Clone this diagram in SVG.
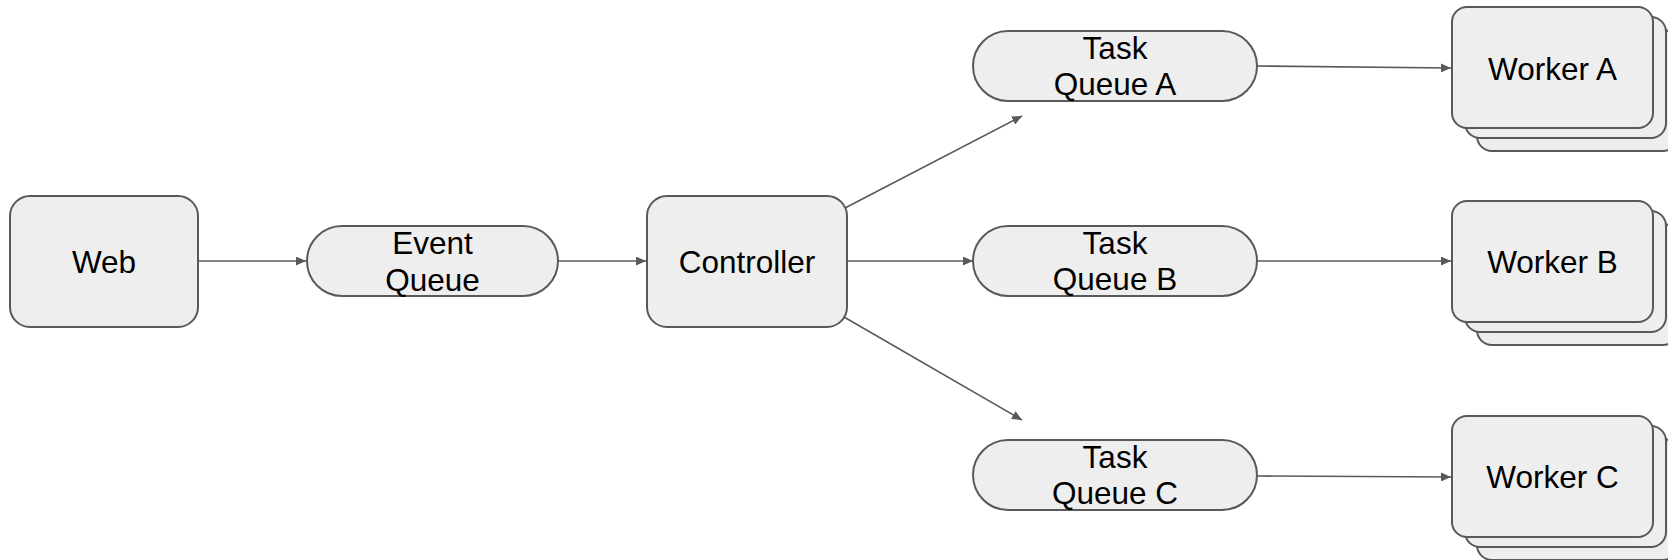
<svg xmlns="http://www.w3.org/2000/svg" width="1668" height="560" viewBox="0 0 1668 560">
  <defs>
    <style>
      .box { fill: #eeeeee; stroke: #595959; stroke-width: 2; }
      .lbl { font-family: "Liberation Sans", Arial, sans-serif; font-size: 31.5px; fill: #000000; text-anchor: middle; }
      .edge { fill: none; stroke: #595959; stroke-width: 1.6; marker-end: url(#arrow); }
    </style>
    <marker id="arrow" markerUnits="userSpaceOnUse" markerWidth="11" markerHeight="9" refX="10" refY="4.5" orient="auto">
      <path d="M0,0 L10,4.5 L0,9 z" fill="#595959"/>
    </marker>
    <!-- stacked card used by the worker pools -->
    <g id="card">
      <rect class="box" x="25" y="23" width="201" height="121" rx="15"/>
      <rect class="box" x="13" y="10" width="201" height="121" rx="15"/>
      <rect class="box" x="0" y="0" width="201" height="121" rx="15"/>
    </g>
  </defs>

  <rect width="1668" height="560" fill="#ffffff"/>

  <g id="connectors">
    <line class="edge" x1="198" y1="261" x2="306" y2="261"/>
    <line class="edge" x1="558" y1="261" x2="646" y2="261"/>
    <line class="edge" x1="847" y1="261" x2="973" y2="261"/>
    <line class="edge" x1="845" y1="208" x2="1022" y2="116"/>
    <line class="edge" x1="844" y1="317" x2="1022" y2="420"/>
    <line class="edge" x1="1257" y1="66" x2="1451" y2="68"/>
    <line class="edge" x1="1257" y1="261" x2="1451" y2="261"/>
    <line class="edge" x1="1257" y1="476" x2="1451" y2="477"/>
  </g>

  <g id="web">
    <rect class="box" x="10" y="196" width="188" height="131" rx="20"/>
    <text class="lbl" x="104" y="273">Web</text>
  </g>

  <g id="event-queue">
    <rect class="box" x="307" y="226" width="251" height="70" rx="35"/>
    <text class="lbl" x="432.5" y="254">Event<tspan x="432.5" dy="36.5">Queue</tspan></text>
  </g>

  <g id="controller">
    <rect class="box" x="647" y="196" width="200" height="131" rx="20"/>
    <text class="lbl" x="747" y="273">Controller</text>
  </g>

  <g id="task-queue-a">
    <rect class="box" x="973" y="31" width="284" height="70" rx="35"/>
    <text class="lbl" x="1115" y="58.5">Task<tspan x="1115" dy="36.5">Queue A</tspan></text>
  </g>

  <g id="task-queue-b">
    <rect class="box" x="973" y="226" width="284" height="70" rx="35"/>
    <text class="lbl" x="1115" y="253.5">Task<tspan x="1115" dy="36.5">Queue B</tspan></text>
  </g>

  <g id="task-queue-c">
    <rect class="box" x="973" y="440" width="284" height="70" rx="35"/>
    <text class="lbl" x="1115" y="467.5">Task<tspan x="1115" dy="36.5">Queue C</tspan></text>
  </g>

  <g id="worker-a">
    <use href="#card" x="1452" y="7"/>
    <text class="lbl" x="1552.5" y="80">Worker A</text>
  </g>

  <g id="worker-b">
    <use href="#card" x="1452" y="201"/>
    <text class="lbl" x="1552.5" y="273">Worker B</text>
  </g>

  <g id="worker-c">
    <use href="#card" x="1452" y="416"/>
    <text class="lbl" x="1552.5" y="488">Worker C</text>
  </g>
</svg>
